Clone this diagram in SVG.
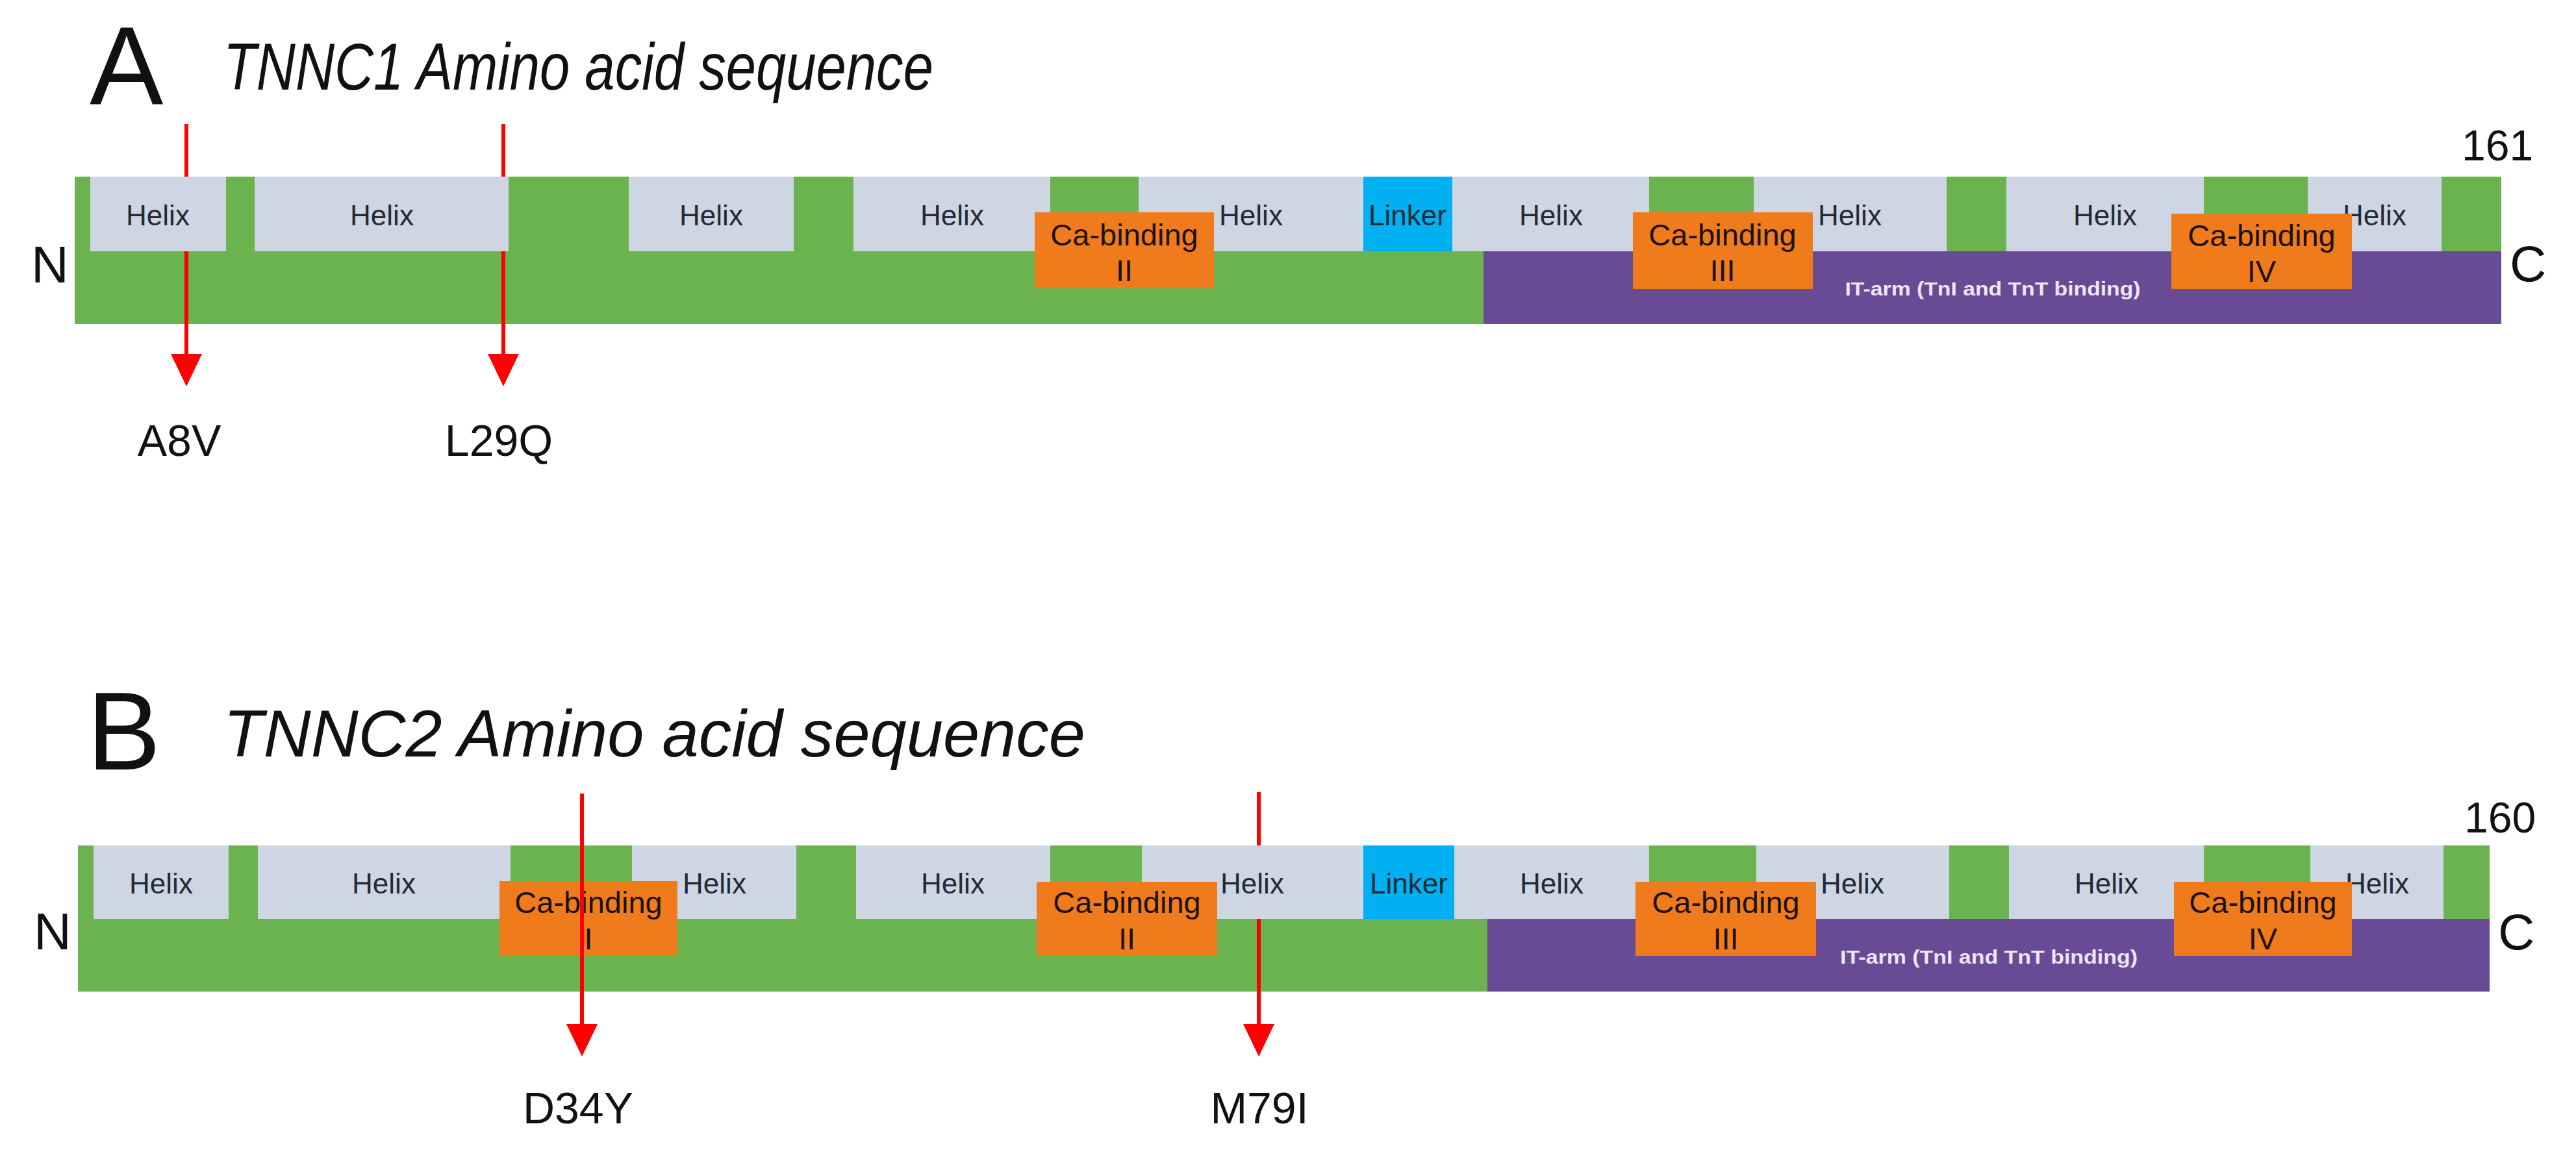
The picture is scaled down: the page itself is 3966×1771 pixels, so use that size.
<svg xmlns="http://www.w3.org/2000/svg" width="3966" height="1771" viewBox="0 0 3966 1771">
<style>
.bg{fill:#ffffff}
.green{fill:#6AB34E}
.helix{fill:#CED6E4}
.linker{fill:#00B0F0}
.ca{fill:#EF7B1C}
.itarm{fill:#694A94}
.lbl{font-family:"Liberation Sans",Arial,sans-serif;fill:#222A35;font-size:44px;text-anchor:middle}
.calbl{font-family:"Liberation Sans",Arial,sans-serif;fill:#1A1208;font-size:47px;text-anchor:middle}
.itlbl{font-family:"Liberation Sans",Arial,sans-serif;fill:#EDE6F5;font-size:30px;text-anchor:middle;font-weight:bold}
.big{font-family:"Liberation Sans",Arial,sans-serif;fill:#111111}
.title{font-family:"Liberation Sans",Arial,sans-serif;fill:#111111;font-size:102px;font-style:italic}
.mut{font-family:"Liberation Sans",Arial,sans-serif;fill:#111111;font-size:68px;text-anchor:middle}
.arrow{stroke:#FF0000;stroke-width:6;fill:none}
</style>
<defs>
<marker id="head" markerUnits="userSpaceOnUse" viewBox="0 0 50 48" refX="0" refY="24" markerWidth="50" markerHeight="48" orient="auto">
<path d="M0,0 L50,24 L0,48 Z" fill="#FF0000"/>
</marker>
</defs>
<rect class="bg" x="0" y="0" width="3966" height="1771"/>

<!-- Panel A -->
<g id="panelA-header">
<text class="big" x="138" y="160" font-size="170">A</text>
<text class="title" x="344" y="138" textLength="1093" lengthAdjust="spacingAndGlyphs">TNNC1 Amino acid sequence</text>
</g>
<g id="tnnc1-bar">
<rect class="green" x="115" y="272" width="3736" height="227"/>
<rect class="itarm" x="2284" y="387" width="1567" height="112"/>
</g>
<g id="tnnc1-helix1"><rect class="helix" x="139" y="272" width="209" height="115"/><text class="lbl" x="243" y="347">Helix</text></g>
<g id="tnnc1-helix2"><rect class="helix" x="392" y="272" width="391" height="115"/><text class="lbl" x="588" y="347">Helix</text></g>
<g id="tnnc1-helix3"><rect class="helix" x="968" y="272" width="254" height="115"/><text class="lbl" x="1095" y="347">Helix</text></g>
<g id="tnnc1-helix4"><rect class="helix" x="1314" y="272" width="303" height="115"/><text class="lbl" x="1466" y="347">Helix</text></g>
<g id="tnnc1-helix5"><rect class="helix" x="1753" y="272" width="346" height="115"/><text class="lbl" x="1926" y="347">Helix</text></g>
<g id="tnnc1-linker"><rect class="linker" x="2099" y="272" width="137" height="115"/><text class="lbl" x="2167" y="347" fill="#0B1F3A">Linker</text></g>
<g id="tnnc1-helix6"><rect class="helix" x="2236" y="272" width="303" height="115"/><text class="lbl" x="2388" y="347">Helix</text></g>
<g id="tnnc1-helix7"><rect class="helix" x="2700" y="272" width="297" height="115"/><text class="lbl" x="2848" y="347">Helix</text></g>
<g id="tnnc1-helix8"><rect class="helix" x="3089" y="272" width="304" height="115"/><text class="lbl" x="3241" y="347">Helix</text></g>
<g id="tnnc1-helix9"><rect class="helix" x="3553" y="272" width="206" height="115"/><text class="lbl" x="3656" y="347">Helix</text></g>
<g id="tnnc1-itarm"><text class="itlbl" x="3068" y="455" textLength="455" lengthAdjust="spacingAndGlyphs">IT-arm (TnI and TnT binding)</text></g>
<g id="tnnc1-ca2"><rect class="ca" x="1593" y="327" width="276" height="117"/><text class="calbl" x="1731" y="378">Ca-binding</text><text class="calbl" x="1731" y="433">II</text></g>
<g id="tnnc1-ca3"><rect class="ca" x="2514" y="327" width="277" height="118"/><text class="calbl" x="2652" y="378">Ca-binding</text><text class="calbl" x="2652" y="433">III</text></g>
<g id="tnnc1-ca4"><rect class="ca" x="3343" y="329" width="278" height="116"/><text class="calbl" x="3482" y="379">Ca-binding</text><text class="calbl" x="3482" y="434">IV</text></g>
<g id="tnnc1-ends">
<text class="big" x="48" y="435" font-size="80">N</text>
<text class="big" x="3864" y="433" font-size="78">C</text>
<text class="big" x="3790" y="247" font-size="66">161</text>
</g>
<g id="tnnc1-mutations">
<text class="mut" x="276" y="702">A8V</text>
<text class="mut" x="768" y="702">L29Q</text>
</g>

<!-- Panel B -->
<g id="panelB-header">
<text class="big" x="134" y="1185" font-size="170">B</text>
<text class="title" x="344" y="1165" textLength="1327" lengthAdjust="spacingAndGlyphs">TNNC2 Amino acid sequence</text>
</g>
<g id="tnnc2-bar">
<rect class="green" x="120" y="1302" width="3713" height="225"/>
<rect class="itarm" x="2290" y="1415" width="1543" height="112"/>
</g>
<g id="tnnc2-helix1"><rect class="helix" x="144" y="1302" width="208" height="113"/><text class="lbl" x="248" y="1376">Helix</text></g>
<g id="tnnc2-helix2"><rect class="helix" x="397" y="1302" width="389" height="113"/><text class="lbl" x="591" y="1376">Helix</text></g>
<g id="tnnc2-helix3"><rect class="helix" x="973" y="1302" width="253" height="113"/><text class="lbl" x="1100" y="1376">Helix</text></g>
<g id="tnnc2-helix4"><rect class="helix" x="1318" y="1302" width="299" height="113"/><text class="lbl" x="1467" y="1376">Helix</text></g>
<g id="tnnc2-helix5"><rect class="helix" x="1758" y="1302" width="341" height="113"/><text class="lbl" x="1928" y="1376">Helix</text></g>
<g id="tnnc2-linker"><rect class="linker" x="2099" y="1302" width="140" height="113"/><text class="lbl" x="2169" y="1376" fill="#0B1F3A">Linker</text></g>
<g id="tnnc2-helix6"><rect class="helix" x="2239" y="1302" width="300" height="113"/><text class="lbl" x="2389" y="1376">Helix</text></g>
<g id="tnnc2-helix7"><rect class="helix" x="2704" y="1302" width="297" height="113"/><text class="lbl" x="2852" y="1376">Helix</text></g>
<g id="tnnc2-helix8"><rect class="helix" x="3093" y="1302" width="300" height="113"/><text class="lbl" x="3243" y="1376">Helix</text></g>
<g id="tnnc2-helix9"><rect class="helix" x="3557" y="1302" width="205" height="113"/><text class="lbl" x="3660" y="1376">Helix</text></g>
<g id="tnnc2-itarm"><text class="itlbl" x="3062" y="1484" textLength="458" lengthAdjust="spacingAndGlyphs">IT-arm (TnI and TnT binding)</text></g>
<g id="tnnc2-ca1"><rect class="ca" x="769" y="1357" width="274" height="115"/><text class="calbl" x="906" y="1406">Ca-binding</text><text class="calbl" x="906" y="1462">I</text></g>
<g id="tnnc2-ca2"><rect class="ca" x="1596" y="1358" width="278" height="114"/><text class="calbl" x="1735" y="1406">Ca-binding</text><text class="calbl" x="1735" y="1462">II</text></g>
<g id="tnnc2-ca3"><rect class="ca" x="2518" y="1358" width="278" height="114"/><text class="calbl" x="2657" y="1406">Ca-binding</text><text class="calbl" x="2657" y="1462">III</text></g>
<g id="tnnc2-ca4"><rect class="ca" x="3347" y="1358" width="274" height="114"/><text class="calbl" x="3484" y="1406">Ca-binding</text><text class="calbl" x="3484" y="1462">IV</text></g>
<g id="tnnc2-ends">
<text class="big" x="52" y="1462" font-size="80">N</text>
<text class="big" x="3846" y="1462" font-size="78">C</text>
<text class="big" x="3794" y="1282" font-size="66">160</text>
</g>
<g id="tnnc2-mutations">
<text class="mut" x="890" y="1730">D34Y</text>
<text class="mut" x="1939" y="1730">M79I</text>
</g>

<!-- Connectors: mutation arrows -->
<g id="connectors">
<path class="arrow" d="M287,191 V272"/>
<path class="arrow" d="M287,387 V545" marker-end="url(#head)"/>
<path class="arrow" d="M775,191 V272"/>
<path class="arrow" d="M775,387 V545" marker-end="url(#head)"/>
<path class="arrow" d="M896,1222 V1577" marker-end="url(#head)"/>
<path class="arrow" d="M1938,1220 V1302"/>
<path class="arrow" d="M1938,1415 V1577" marker-end="url(#head)"/>
</g>
</svg>
